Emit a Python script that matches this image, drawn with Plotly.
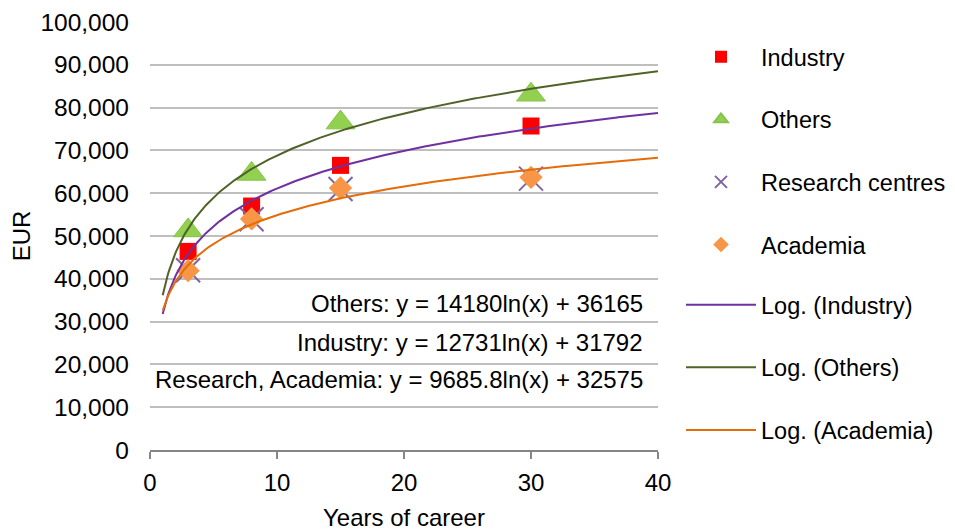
import numpy as np
import plotly.graph_objects as go

# ---- data ----
years = [3, 8, 15, 30]
industry = [46400, 57000, 66500, 75700]
others = [51300, 64500, 76500, 83000]
research = [42000, 53900, 61000, 63400]
academia = [41900, 54000, 61200, 63700]

# displayed logarithmic trend-line coefficients (a*ln(x) + b)
trend_names = ["Log. (Industry)", "Log. (Others)", "Log. (Academia)"]
trend_a = [12731, 14180, 9685.8]
trend_b = [31792, 36165, 32575]
trend_x_range = [1, 40]

eq_labels = [
    "Others: y = 14180ln(x) + 36165",
    "Industry: y = 12731ln(x) + 31792",
    "Research, Academia: y = 9685.8ln(x) + 32575",
]

y_ticks = list(range(0, 100001, 10000))
x_ticks = [0, 10, 20, 30, 40]

FONT = "Liberation Sans, Arial, sans-serif"
FS = 24
LFS = 23.5

# page body has an 8px default margin -> figure is 8px smaller each way
W, H = 947, 523

fig = go.Figure()

fig.add_trace(go.Scatter(x=years, y=industry, mode="markers", name="Industry",
                         legend="legend",
                         marker=dict(symbol="square", size=17, color="#FF0000", line=dict(width=0))))
fig.add_trace(go.Scatter(x=years, y=others, mode="markers", name="Others",
                         legend="legend",
                         marker=dict(symbol="triangle-up", size=25, color="#92D050",
                                     line=dict(width=1, color="#86C34A"))))
fig.add_trace(go.Scatter(x=years, y=research, mode="markers", name="Research centres",
                         legend="legend",
                         marker=dict(symbol="x-thin", size=24, color="#8064A2",
                                     line=dict(width=2, color="#8064A2"))))
fig.add_trace(go.Scatter(x=years, y=academia, mode="markers", name="Academia",
                         legend="legend",
                         marker=dict(symbol="diamond", size=18, color="#F79646", line=dict(width=0))))

trend_colors = ["#7030A0", "#4F6228", "#E46C0A"]
xs = np.linspace(trend_x_range[0], trend_x_range[1], 400)
for i, (nm, a, b) in enumerate(zip(trend_names, trend_a, trend_b)):
    fig.add_trace(go.Scatter(x=xs, y=a * np.log(xs) + b, mode="lines", name=nm,
                             legend="legend2",
                             line=dict(color=trend_colors[i], width=2)))

# give every trace its own group so tracegroupgap spaces the entries
for k, tr in enumerate(fig.data):
    tr.legendgroup = "grp%d" % k

ann_y = [34300, 25200, 16400]
for txt, yy in zip(eq_labels, ann_y):
    fig.add_annotation(x=39.0, y=yy, xref="x", yref="y", text=txt, showarrow=False,
                       xanchor="right", yanchor="middle",
                       font=dict(family=FONT, size=FS, color="#000000"))

leg_common = dict(xref="container", yref="container", xanchor="left", yanchor="top",
                  font=dict(family=FONT, size=LFS, color="#000000"),
                  tracegroupgap=29, itemwidth=70,
                  bgcolor="rgba(0,0,0,0)", traceorder="grouped")

fig.update_layout(
    width=W, height=H,
    margin=dict(l=142, r=297, t=14, b=81, autoexpand=False),
    paper_bgcolor="white", plot_bgcolor="white",
    font=dict(family=FONT, size=FS, color="#000000"),
    showlegend=True,
    legend=dict(x=673 / W, y=1 - 27 / H, itemsizing="constant", **leg_common),
    legend2=dict(x=673 / W, y=1 - 275 / H, itemsizing="trace", **leg_common),
)

fig.update_xaxes(range=[0, 40], tickvals=x_ticks, showgrid=False, zeroline=False,
                 automargin=False,
                 showline=True, linecolor="#868686", linewidth=1.5,
                 ticks="outside", ticklen=7, tickwidth=1.5, tickcolor="#868686",
                 ticklabelstandoff=3,
                 title=dict(text="Years of career", standoff=22,
                            font=dict(family=FONT, size=FS)),
                 tickfont=dict(family=FONT, size=FS))
fig.update_yaxes(range=[0, 100000], tickvals=y_ticks, tickformat=",",
                 automargin=False,
                 showgrid=True, gridcolor="#BFBFBF", gridwidth=1.5, zeroline=False,
                 showline=False, ticks="", ticklabelstandoff=20,
                 title=dict(text="EUR", standoff=9, font=dict(family=FONT, size=FS)),
                 tickfont=dict(family=FONT, size=24.5))

fig.write_html("out.html")
